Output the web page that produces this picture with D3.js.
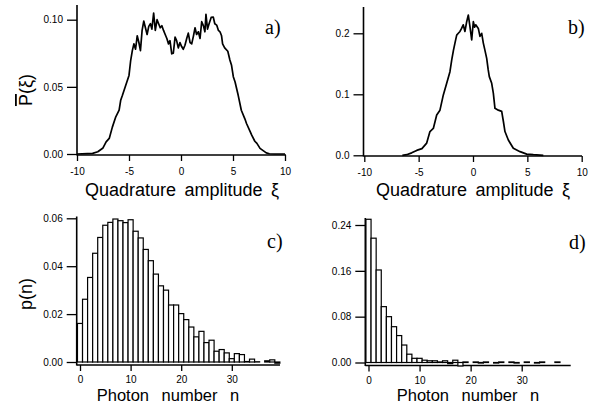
<!DOCTYPE html>
<html>
<head>
<meta charset="utf-8">
<script src="https://cdn.jsdelivr.net/npm/d3@7"></script>
<style>
  body { margin: 0; background: #fff; }
  text { font-family: "Liberation Sans", Arial, sans-serif; fill: #000; }
  .tick text { font-size: 10px; }
  .serif { font-family: "Liberation Serif", "Times New Roman", serif; }
</style>
</head>
<body>
<svg id="fig" width="598" height="406"></svg>
<script>
// a) quadrature distribution, broad
var aXi = [-10, -9, -8.5, -8, -7.5, -7.2, -6.9, -6.6, -6.27, -5.95, -5.8, -5.63, -5.32, -5, -4.84, -4.68, -4.53, -4.37, -4.21, -4.05, -3.9, -3.74, -3.58, -3.42, -3.26, -3.1, -2.94, -2.8, -2.63, -2.47, -2.3, -2.15, -2, -1.84, -1.68, -1.52, -1.36, -1.2, -1.06, -0.89, -0.74, -0.57, -0.42, -0.26, -0.1, 0.06, 0.22, 0.38, 0.55, 0.7, 0.87, 1.03, 1.2, 1.35, 1.5, 1.67, 1.83, 1.99, 2.15, 2.3, 2.4, 2.55, 2.7, 2.9, 3.1, 3.25, 3.43, 3.6, 3.75, 3.9, 4, 4.2, 4.5, 4.7, 4.86, 5.03, 5.2, 5.5, 5.8, 6.15, 6.3, 6.63, 6.8, 7.1, 7.3, 7.6, 7.9, 8.2, 8.5, 9, 10];
var aP = [0, 0.0003, 0.0005, 0.0017, 0.0045, 0.009, 0.0116, 0.02, 0.0277, 0.0326, 0.04, 0.0437, 0.051, 0.0585, 0.0696, 0.077, 0.082, 0.078, 0.088, 0.083, 0.077, 0.092, 0.099, 0.094, 0.089, 0.095, 0.097, 0.093, 0.105, 0.092, 0.1, 0.097, 0.094, 0.0955, 0.092, 0.089, 0.086, 0.082, 0.0844, 0.0746, 0.075, 0.087, 0.0844, 0.079, 0.083, 0.08, 0.078, 0.081, 0.086, 0.09, 0.083, 0.082, 0.088, 0.094, 0.089, 0.091, 0.086, 0.0985, 0.0956, 0.091, 0.104, 0.093, 0.097, 0.1017, 0.102, 0.097, 0.096, 0.092, 0.091, 0.088, 0.082, 0.079, 0.0765, 0.07, 0.066, 0.0576, 0.0536, 0.0437, 0.0326, 0.026, 0.0227, 0.017, 0.014, 0.0095, 0.0079, 0.0042, 0.0025, 0.0008, 0.0002, 0, 0];

// b) quadrature distribution, narrow
var bXi = [-6.5, -6.1, -5.64, -5.18, -4.7, -4.26, -3.96, -3.65, -3.34, -3.04, -2.73, -2.42, -2.12, -1.96, -1.8, -1.66, -1.5, -1.35, -1.2, -1.05, -0.9, -0.74, -0.58, -0.43, -0.28, -0.12, 0.03, 0.15, 0.25, 0.49, 0.64, 0.8, 0.95, 1.1, 1.26, 1.4, 1.5, 1.72, 1.87, 2.02, 2.33, 2.64, 2.8, 2.94, 3.25, 3.71, 4.33, 4.94, 5.55, 6.47];
var bP = [0, 0.001, 0.004, 0.008, 0.011, 0.02, 0.039, 0.044, 0.066, 0.074, 0.099, 0.118, 0.137, 0.156, 0.172, 0.184, 0.197, 0.2, 0.203, 0.208, 0.214, 0.203, 0.219, 0.23, 0.211, 0.189, 0.219, 0.21, 0.214, 0.208, 0.195, 0.2, 0.184, 0.172, 0.159, 0.14, 0.129, 0.118, 0.102, 0.077, 0.074, 0.072, 0.055, 0.039, 0.025, 0.0115, 0.006, 0.002, 0.001, 0];

// c), d) photon number distributions, n = 0..39
var photonN = d3.range(0, 40);
var cP = [0.0161, 0.0262, 0.0353, 0.0454, 0.052, 0.0571, 0.0583, 0.0597, 0.059, 0.0582, 0.0594, 0.0546, 0.0518, 0.047, 0.0423, 0.0367, 0.0318, 0.030, 0.0238, 0.0238, 0.0202, 0.0177, 0.0146, 0.0105, 0.0128, 0.0081, 0.0091, 0.0045, 0.0052, 0.0038, 0.0014, 0.0035, 0.0031, 0.0002, 0.0012, 0.0001, 0, 0.0005, 0.0009, -0.0005];
var dP = [0.25, 0.217, 0.1615, 0.0975, 0.08, 0.0625, 0.047, 0.0305, 0.0145, 0.0073, 0.0073, 0.004, 0.003, 0.003, 0.001, 0.003, -0.002, 0.004, -0.006, 0.001, 0, 0.001, -0.001, 0.001, 0, -0.001, 0.001, 0, 0.001, -0.001, 0, 0.001, 0, -0.001, 0.001, 0, 0, 0.001, 0, 0];

var xiTicks = [-10, -5, 0, 5, 10];
var nTicks = [0, 10, 20, 30];
var aYTicks = [0, 0.05, 0.1];
var bYTicks = [0, 0.1, 0.2];
var cYTicks = [0, 0.02, 0.04, 0.06];
var dYTicks = [0, 0.08, 0.16, 0.24];

var svg = d3.select("#fig");

// draws axes of one panel; returns group
function axes(o) {
  var g = svg.append("g");
  var yAx = d3.axisLeft(o.y).tickValues(o.yTicks).tickSize(10).tickPadding(4)
    .tickFormat(o.yFmt);
  g.append("g").attr("transform", "translate(" + o.xAxisX + ",0)").call(yAx)
    .call(function (s) { s.select(".domain").remove(); });
  var xAx = d3.axisBottom(o.x).tickValues(o.xTicks).tickSize(6).tickPadding(o.xPad)
    .tickFormat(function (d) { return String(d); });
  g.append("g").attr("transform", "translate(0," + o.xAxisY + ")").call(xAx)
    .call(function (s) { s.select(".domain").remove(); });
  g.selectAll(".tick line").attr("stroke", "#000").attr("stroke-width", 1.3);
  // axis lines
  g.append("line").attr("x1", o.xAxisX).attr("x2", o.xAxisX)
    .attr("y1", o.yTopPx).attr("y2", o.xAxisY + 0.5)
    .attr("stroke", "#000").attr("stroke-width", 1.6);
  g.append("line").attr("x1", o.xAxisX).attr("x2", o.xRightPx)
    .attr("y1", o.xAxisY).attr("y2", o.xAxisY)
    .attr("stroke", "#000").attr("stroke-width", 1.6);
  return g;
}

function curve(g, x, y, xs, ys) {
  var pts = xs.map(function (v, i) { return [v, ys[i]]; });
  g.append("path").datum(pts)
    .attr("d", d3.line().x(function (d) { return x(d[0]); }).y(function (d) { return y(d[1]); }))
    .attr("fill", "none").attr("stroke", "#000").attr("stroke-width", 1.7)
    .attr("stroke-linejoin", "round");
}

function bars(g, x, y, ns, vs) {
  var w = x(1) - x(0);
  g.selectAll("rect.bar").data(ns).enter().append("rect")
    .attr("class", "bar")
    .attr("x", function (n) { return x(n - 0.5); })
    .attr("width", w)
    .attr("y", function (n, i) { return y(Math.max(vs[i], 0)); })
    .attr("height", function (n, i) { return Math.abs(y(vs[i]) - y(0)); })
    .attr("fill", "#fff").attr("stroke", "#000").attr("stroke-width", 1.2);
}

function label(txt, x, y, size, cls, ws) {
  return svg.append("text").attr("x", x).attr("y", y).attr("text-anchor", "middle")
    .attr("class", cls || null).style("font-size", size + "px")
    .style("word-spacing", (ws || 0) + "px").text(txt);
}

var fmt2 = d3.format(".2f"), fmt1 = d3.format(".1f");

// ---- panel a
var xA = d3.scaleLinear().domain([-10, 10]).range([77, 285]);
var yA = d3.scaleLinear().domain([0, 0.1]).range([154, 19.7]);
var gA = axes({ x: xA, y: yA, xTicks: xiTicks, yTicks: aYTicks, yFmt: fmt2, xPad: 7,
  xAxisX: 77, xAxisY: 155, yTopPx: 5, xRightPx: 286 });
curve(gA, xA, yA, aXi, aP);

// ---- panel b
var xB = d3.scaleLinear().domain([-10, 10]).range([364.3, 581.7]);
var yB = d3.scaleLinear().domain([0, 0.2]).range([155.3, 33.3]);
var gB = axes({ x: xB, y: yB, xTicks: xiTicks, yTicks: bYTicks, yFmt: fmt1, xPad: 7,
  xAxisX: 363.5, xAxisY: 156, yTopPx: 7, xRightPx: 582 });
curve(gB, xB, yB, bXi, bP);

// ---- panel c
var xC = d3.scaleLinear().domain([0, 30]).range([80, 231.8]);
var yC = d3.scaleLinear().domain([0, 0.06]).range([362, 218.3]);
var gC = axes({ x: xC, y: yC, xTicks: nTicks, yTicks: cYTicks, yFmt: fmt2, xPad: 5,
  xAxisX: 76.7, xAxisY: 365, yTopPx: 216.5, xRightPx: 280 });
bars(gC, xC, yC, photonN, cP);

// ---- panel d
var xD = d3.scaleLinear().domain([0, 30]).range([368.5, 521.7]);
var yD = d3.scaleLinear().domain([0, 0.24]).range([362.5, 225]);
var gD = axes({ x: xD, y: yD, xTicks: nTicks, yTicks: dYTicks, yFmt: fmt2, xPad: 5,
  xAxisX: 365.3, xAxisY: 365.5, yTopPx: 218, xRightPx: 570.7 });
bars(gD, xD, yD, photonN, dP);

// titles
label("Quadrature amplitude \u03BE", 182, 196, 18, null, 3.5);
label("Quadrature amplitude \u03BE", 473, 196, 18, null, 3.5);
label("Photon number n", 168, 401, 16.5, null, 8);
label("Photon number n", 468, 401, 16.5, null, 8);

// panel letters
svg.append("text").attr("class", "serif").attr("x", 265).attr("y", 34).style("font-size", "20px").text("a)");
svg.append("text").attr("class", "serif").attr("x", 568).attr("y", 34).style("font-size", "20px").text("b)");
svg.append("text").attr("class", "serif").attr("x", 267).attr("y", 248).style("font-size", "20px").text("c)");
svg.append("text").attr("class", "serif").attr("x", 569).attr("y", 249).style("font-size", "20px").text("d)");

// y labels
var yl = svg.append("text").attr("transform", "translate(32,90) rotate(-90)")
  .attr("text-anchor", "middle").style("font-size", "18px");
yl.append("tspan").style("text-decoration", "overline").text("P");
yl.append("tspan").text("(\u03BE)");
svg.append("text").attr("transform", "translate(32,294) rotate(-90)")
  .attr("text-anchor", "middle").style("font-size", "18px").text("p(n)");
</script>
</body>
</html>
